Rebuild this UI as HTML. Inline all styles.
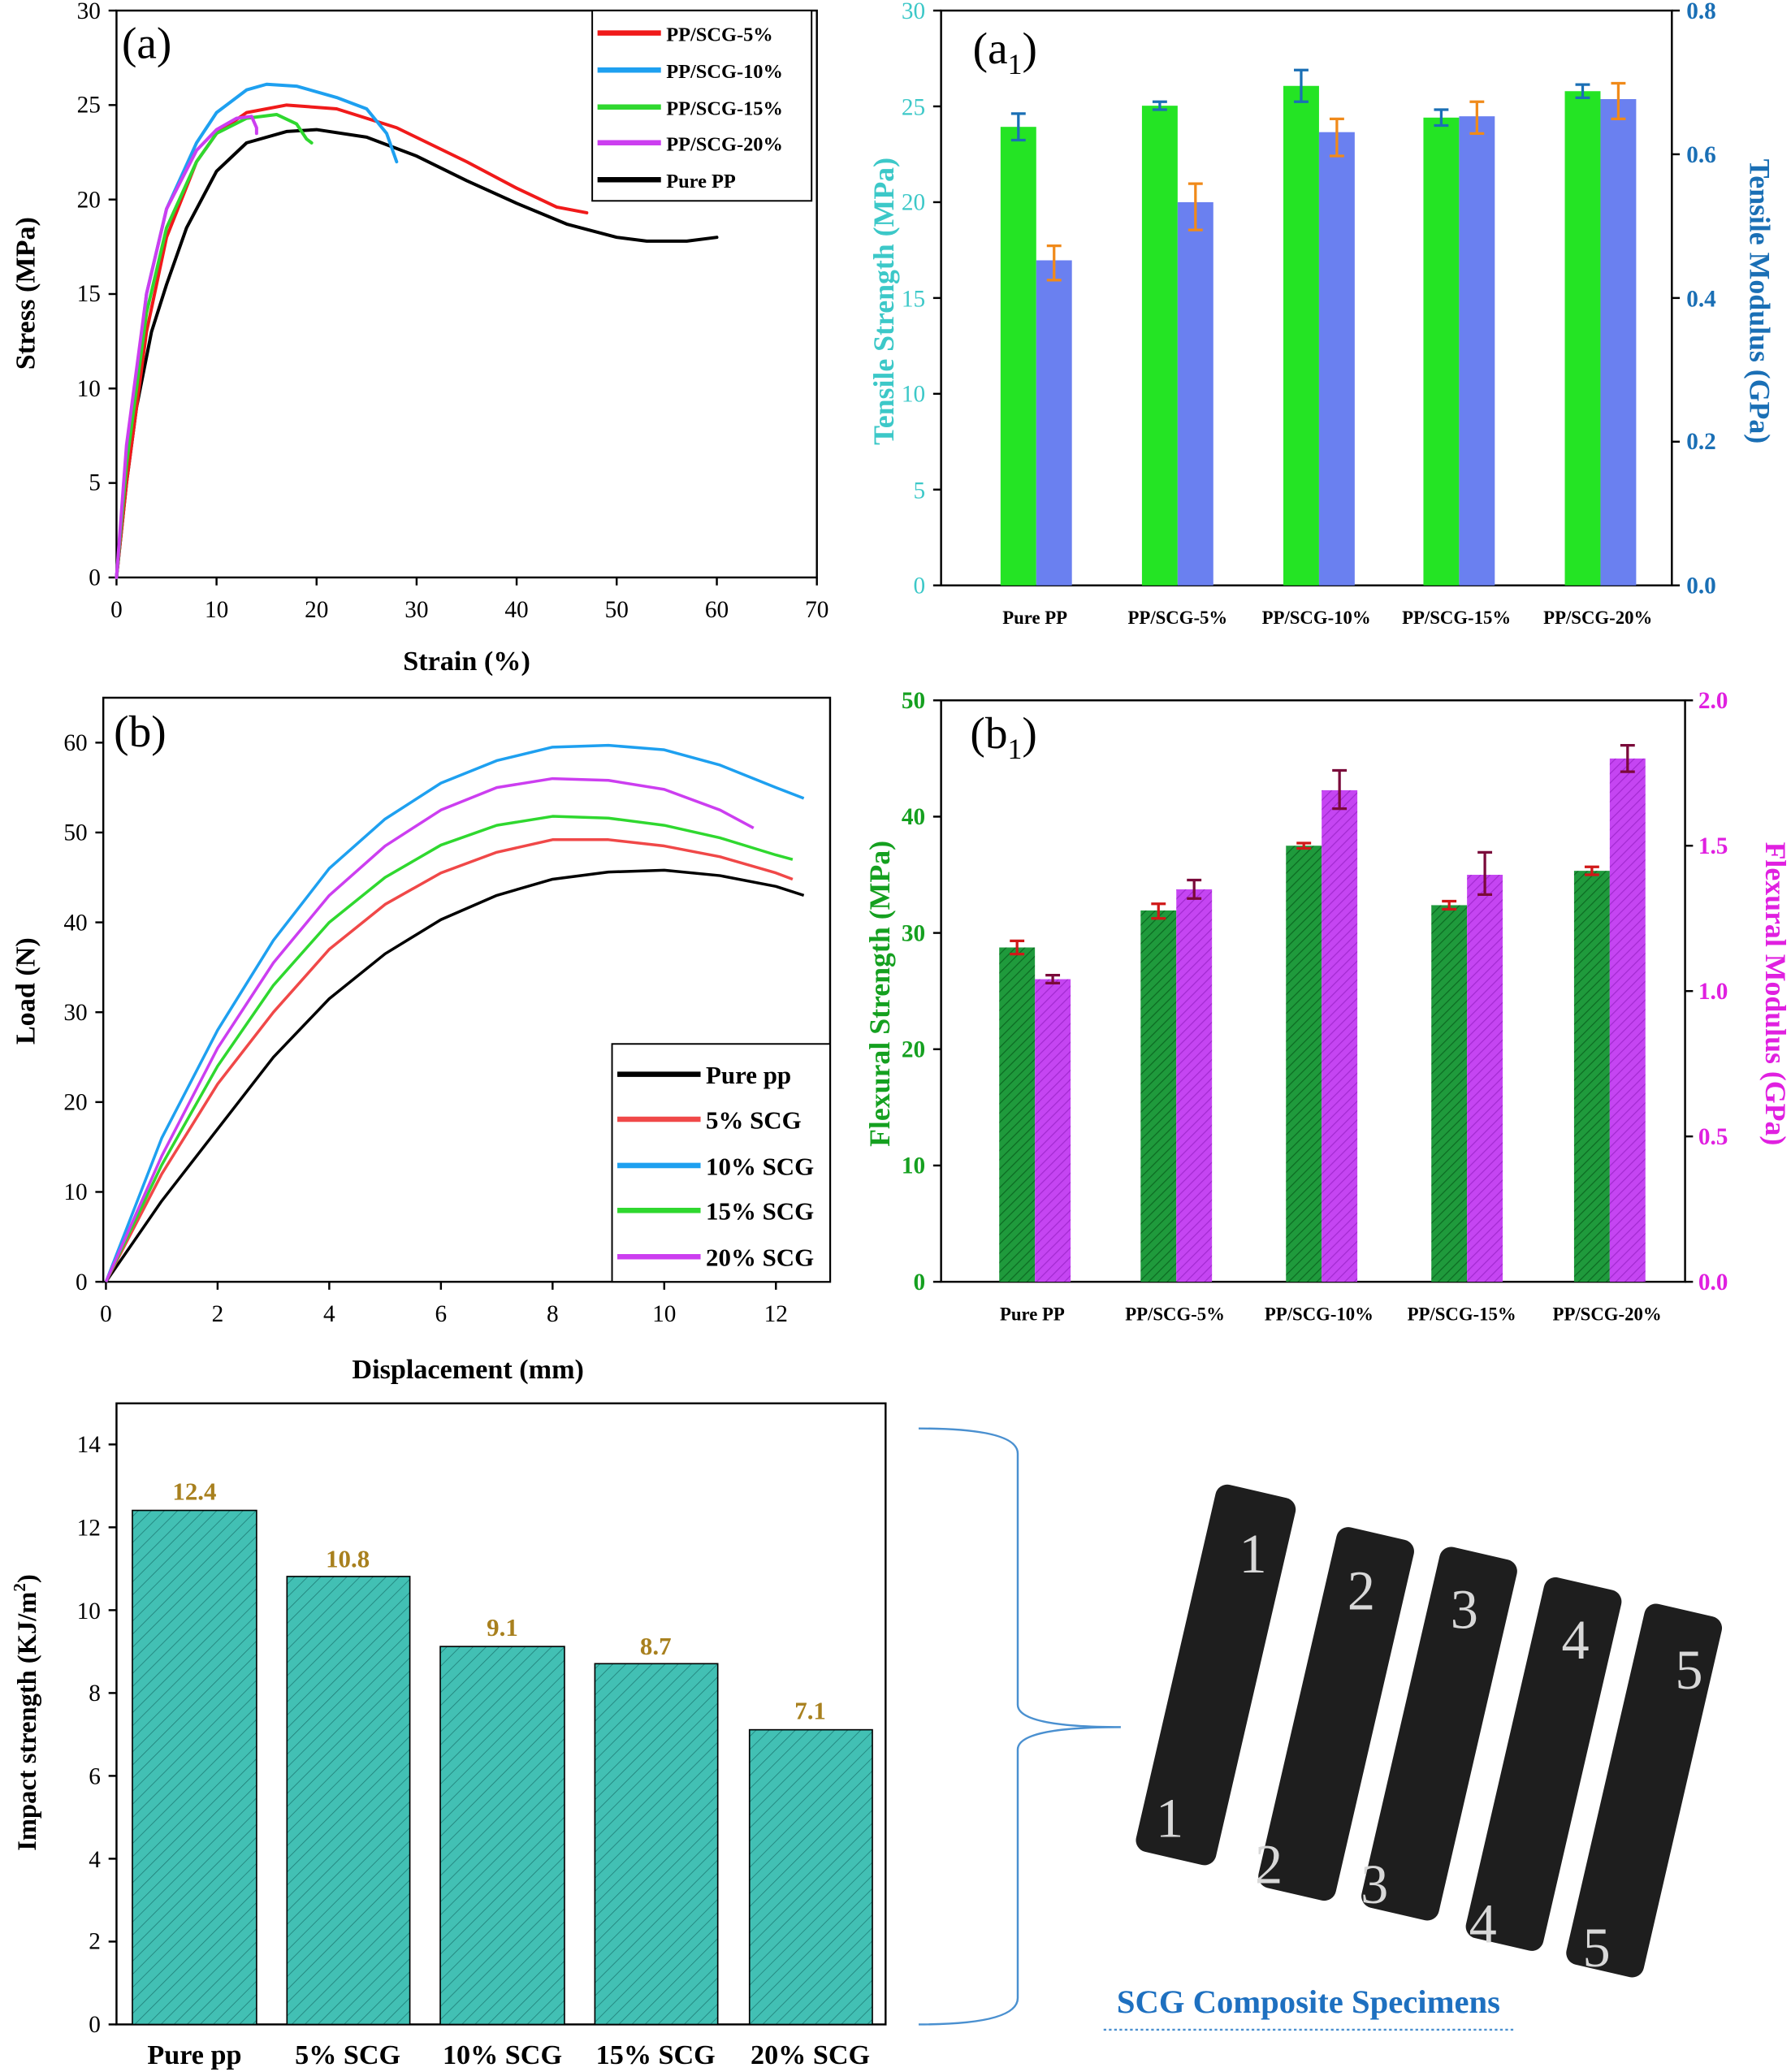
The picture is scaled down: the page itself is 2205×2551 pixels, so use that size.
<!DOCTYPE html>
<html><head><meta charset="utf-8"><style>
html,body{margin:0;padding:0;background:#fff}
svg{display:block}
text{font-family:"Liberation Serif",serif}
.t{font-size:18px}
.b{font-weight:bold}
</style></head><body>
<svg width="2205" height="2551" viewBox="0 0 1355 1568" xmlns="http://www.w3.org/2000/svg">
<defs>
<pattern id="h1" width="5" height="5" patternUnits="userSpaceOnUse" patternTransform="rotate(45)"><rect width="5" height="5" fill="#1f9a3c"/><line x1="0" y1="0" x2="0" y2="5" stroke="#0c6a22" stroke-width="1.5"/></pattern>
<pattern id="h2" width="5" height="5" patternUnits="userSpaceOnUse" patternTransform="rotate(45)"><rect width="5" height="5" fill="#c545f2"/><line x1="0" y1="0" x2="0" y2="5" stroke="#a22ad0" stroke-width="1.5"/></pattern>
<pattern id="h3" width="7" height="7" patternUnits="userSpaceOnUse" patternTransform="rotate(45)"><rect width="7" height="7" fill="#42c0b4"/><line x1="0" y1="0" x2="0" y2="7" stroke="#1f7f78" stroke-width="1"/></pattern>
</defs>

<!-- ========== (a) ========== -->
<rect x="88" y="8" width="530" height="429" fill="none" stroke="#000" stroke-width="1.5"/>
<g stroke="#000" stroke-width="1.5">
<line x1="88" y1="437" x2="88" y2="443"/><line x1="163.7" y1="437" x2="163.7" y2="443"/><line x1="239.4" y1="437" x2="239.4" y2="443"/><line x1="315.1" y1="437" x2="315.1" y2="443"/><line x1="390.8" y1="437" x2="390.8" y2="443"/><line x1="466.5" y1="437" x2="466.5" y2="443"/><line x1="542.3" y1="437" x2="542.3" y2="443"/><line x1="618" y1="437" x2="618" y2="443"/>
<line x1="82" y1="437" x2="88" y2="437"/><line x1="82" y1="365.5" x2="88" y2="365.5"/><line x1="82" y1="294" x2="88" y2="294"/><line x1="82" y1="222.5" x2="88" y2="222.5"/><line x1="82" y1="151" x2="88" y2="151"/><line x1="82" y1="79.5" x2="88" y2="79.5"/><line x1="82" y1="8" x2="88" y2="8"/>
</g>
<g class="t" text-anchor="middle">
<text x="88" y="467">0</text><text x="163.7" y="467">10</text><text x="239.4" y="467">20</text><text x="315.1" y="467">30</text><text x="390.8" y="467">40</text><text x="466.5" y="467">50</text><text x="542.3" y="467">60</text><text x="618" y="467">70</text>
</g>
<g class="t" text-anchor="end">
<text x="76" y="443">0</text><text x="76" y="371">5</text><text x="76" y="300">10</text><text x="76" y="228">15</text><text x="76" y="157">20</text><text x="76" y="85">25</text><text x="76" y="14">30</text>
</g>
<text x="353" y="507" text-anchor="middle" class="b" font-size="21">Strain (%)</text>
<text transform="translate(26,222) rotate(-90)" text-anchor="middle" class="b" font-size="21">Stress (MPa)</text>
<text x="92" y="44" font-size="34">(a)</text>
<g transform="translate(88,437) scale(7.571,-14.3)" fill="none" stroke-width="4" stroke-linejoin="round" stroke-linecap="round">
<polyline vector-effect="non-scaling-stroke" stroke="#000" points="0,0 1,5 2,9 3.5,13 5,15.5 7,18.5 10,21.5 13,23 17,23.6 20,23.7 25,23.3 30,22.3 35,21 40,19.8 45,18.7 50,18 53,17.8 57,17.8 60,18"/>
<polyline vector-effect="non-scaling-stroke" stroke="#f01a1a" points="0,0 1,5 3,13 5,18 8,22 10,23.5 13,24.6 17,25 22,24.8 28,23.8 35,22 40,20.6 44,19.6 47,19.3"/>
<polyline vector-effect="non-scaling-stroke" stroke="#1ea0f0" points="0,0 1,6 3,15 5,19.5 8,23 10,24.6 13,25.8 15,26.1 18,26 22,25.4 25,24.8 27,23.5 28,22"/>
<polyline vector-effect="non-scaling-stroke" stroke="#2fd82f" points="0,0 1,6 3,14 5,18.5 8,22 10,23.5 13,24.3 16,24.5 18,24 19,23.2 19.5,23"/>
<polyline vector-effect="non-scaling-stroke" stroke="#cc3ef0" points="0,0 1,7 3,15 5,19.5 8,22.6 10,23.7 12,24.3 13.5,24.4 14,23.8 14,23.5"/>
</g>
<rect x="448" y="8" width="166" height="144" fill="#fff" stroke="#000" stroke-width="1.2"/>
<g stroke-width="4">
<line x1="452" y1="25" x2="500" y2="25" stroke="#f01a1a"/><line x1="452" y1="53" x2="500" y2="53" stroke="#1ea0f0"/><line x1="452" y1="81" x2="500" y2="81" stroke="#2fd82f"/><line x1="452" y1="108" x2="500" y2="108" stroke="#cc3ef0"/><line x1="452" y1="136" x2="500" y2="136" stroke="#000"/>
</g>
<g class="b" font-size="15">
<text x="504" y="31">PP/SCG-5%</text><text x="504" y="59">PP/SCG-10%</text><text x="504" y="87">PP/SCG-15%</text><text x="504" y="114">PP/SCG-20%</text><text x="504" y="142">Pure PP</text>
</g>

<!-- ========== (a1) ========== -->
<rect x="712" y="8" width="553" height="435" fill="none" stroke="#000" stroke-width="1.5"/>
<g fill="#24e424"><rect x="757" y="96" width="27" height="347"/><rect x="864" y="80" width="27" height="363"/><rect x="971" y="65" width="27" height="378"/><rect x="1077" y="89" width="27" height="354"/><rect x="1184" y="69" width="27" height="374"/></g>
<g fill="#6a80f0"><rect x="784" y="197" width="27" height="246"/><rect x="891" y="153" width="27" height="290"/><rect x="998" y="100" width="27" height="343"/><rect x="1104" y="88" width="27" height="355"/><rect x="1211" y="75" width="27" height="368"/></g>
<g stroke="#1a6fb5" stroke-width="2">
<path d="M770.5,86v20M765,86h11M765,106h11"/><path d="M877.5,77v6M872,77h11M872,83h11"/><path d="M984.5,53v24M979,53h11M979,77h11"/><path d="M1090.5,83v12M1085,83h11M1085,95h11"/><path d="M1197.5,64v10M1192,64h11M1192,74h11"/>
</g>
<g stroke="#f08a1a" stroke-width="2">
<path d="M797.5,186v26M792,186h11M792,212h11"/><path d="M904.5,139v35M899,139h11M899,174h11"/><path d="M1011.5,90v28M1006,90h11M1006,118h11"/><path d="M1117.5,77v24M1112,77h11M1112,101h11"/><path d="M1224.5,63v27M1219,63h11M1219,90h11"/>
</g>
<g stroke="#000" stroke-width="1.5">
<line x1="706" y1="443" x2="712" y2="443"/><line x1="706" y1="370.5" x2="712" y2="370.5"/><line x1="706" y1="298" x2="712" y2="298"/><line x1="706" y1="225.5" x2="712" y2="225.5"/><line x1="706" y1="153" x2="712" y2="153"/><line x1="706" y1="80.5" x2="712" y2="80.5"/><line x1="706" y1="8" x2="712" y2="8"/>
<line x1="1265" y1="443" x2="1271" y2="443"/><line x1="1265" y1="334.25" x2="1271" y2="334.25"/><line x1="1265" y1="225.5" x2="1271" y2="225.5"/><line x1="1265" y1="116.75" x2="1271" y2="116.75"/><line x1="1265" y1="8" x2="1271" y2="8"/>
</g>
<g class="t" text-anchor="end" fill="#3cc8c8">
<text x="700" y="449">0</text><text x="700" y="377">5</text><text x="700" y="304">10</text><text x="700" y="232">15</text><text x="700" y="159">20</text><text x="700" y="87">25</text><text x="700" y="14">30</text>
</g>
<g class="t" fill="#1a6fb5" font-weight="bold">
<text x="1276" y="449">0.0</text><text x="1276" y="340">0.2</text><text x="1276" y="232">0.4</text><text x="1276" y="123">0.6</text><text x="1276" y="14">0.8</text>
</g>
<g class="b" font-size="14" text-anchor="middle">
<text x="783" y="472">Pure PP</text><text x="891" y="472">PP/SCG-5%</text><text x="996" y="472">PP/SCG-10%</text><text x="1102" y="472">PP/SCG-15%</text><text x="1209" y="472">PP/SCG-20%</text>
</g>
<text transform="translate(676,228) rotate(-90)" text-anchor="middle" class="b" font-size="22" fill="#3cc8c8">Tensile Strength (MPa)</text>
<text transform="translate(1324,228) rotate(90)" text-anchor="middle" class="b" font-size="22" fill="#1a6fb5">Tensile Modulus (GPa)</text>
<text x="736" y="48" font-size="34">(a<tspan font-size="22" dy="8">1</tspan><tspan dy="-8">)</tspan></text>

<!-- ========== (b) ========== -->
<rect x="78" y="528" width="550" height="442" fill="none" stroke="#000" stroke-width="1.5"/>
<g stroke="#000" stroke-width="1.5">
<line x1="80" y1="970" x2="80" y2="976"/><line x1="164.5" y1="970" x2="164.5" y2="976"/><line x1="249" y1="970" x2="249" y2="976"/><line x1="333.5" y1="970" x2="333.5" y2="976"/><line x1="418" y1="970" x2="418" y2="976"/><line x1="502.5" y1="970" x2="502.5" y2="976"/><line x1="587" y1="970" x2="587" y2="976"/>
<line x1="72" y1="970" x2="78" y2="970"/><line x1="72" y1="902" x2="78" y2="902"/><line x1="72" y1="834" x2="78" y2="834"/><line x1="72" y1="766" x2="78" y2="766"/><line x1="72" y1="698" x2="78" y2="698"/><line x1="72" y1="630" x2="78" y2="630"/><line x1="72" y1="562" x2="78" y2="562"/>
</g>
<g class="t" text-anchor="middle">
<text x="80" y="1000">0</text><text x="164.5" y="1000">2</text><text x="249" y="1000">4</text><text x="333.5" y="1000">6</text><text x="418" y="1000">8</text><text x="502.5" y="1000">10</text><text x="587" y="1000">12</text>
</g>
<g class="t" text-anchor="end">
<text x="66" y="976">0</text><text x="66" y="908">10</text><text x="66" y="840">20</text><text x="66" y="772">30</text><text x="66" y="704">40</text><text x="66" y="636">50</text><text x="66" y="568">60</text>
</g>
<text x="354" y="1043" text-anchor="middle" class="b" font-size="21">Displacement (mm)</text>
<text transform="translate(26,750) rotate(-90)" text-anchor="middle" class="b" font-size="21">Load (N)</text>
<text x="86" y="565" font-size="34">(b)</text>
<g transform="translate(80,970) scale(42.25,-6.8)" fill="none" stroke-width="3.5" stroke-linejoin="round">
<polyline vector-effect="non-scaling-stroke" stroke="#000" points="0,0 1,9 2,17 3,25 4,31.5 5,36.5 6,40.3 7,43 8,44.8 9,45.6 10,45.8 11,45.2 12,44 12.5,43"/>
<polyline vector-effect="non-scaling-stroke" stroke="#f04848" points="0,0 1,12 2,22 3,30 4,37 5,42 6,45.5 7,47.8 8,49.2 9,49.2 10,48.5 11,47.3 12,45.5 12.3,44.8"/>
<polyline vector-effect="non-scaling-stroke" stroke="#1ea0f0" points="0,0 1,16 2,28 3,38 4,46 5,51.5 6,55.5 7,58 8,59.5 9,59.7 10,59.2 11,57.5 12,55 12.5,53.8"/>
<polyline vector-effect="non-scaling-stroke" stroke="#2fd82f" points="0,0 1,13 2,24 3,33 4,40 5,45 6,48.6 7,50.8 8,51.8 9,51.6 10,50.8 11,49.4 12,47.5 12.3,47"/>
<polyline vector-effect="non-scaling-stroke" stroke="#cc3ef0" points="0,0 1,14 2,26 3,35.5 4,43 5,48.5 6,52.5 7,55 8,56 9,55.8 10,54.8 11,52.5 11.6,50.5"/>
</g>
<rect x="463" y="790" width="165" height="180" fill="#fff" stroke="#000" stroke-width="1.2"/>
<g stroke-width="4">
<line x1="467" y1="813" x2="530" y2="813" stroke="#000"/><line x1="467" y1="847" x2="530" y2="847" stroke="#f04848"/><line x1="467" y1="882" x2="530" y2="882" stroke="#1ea0f0"/><line x1="467" y1="916" x2="530" y2="916" stroke="#2fd82f"/><line x1="467" y1="951" x2="530" y2="951" stroke="#cc3ef0"/>
</g>
<g class="b" font-size="19">
<text x="534" y="820">Pure pp</text><text x="534" y="854">5% SCG</text><text x="534" y="889">10% SCG</text><text x="534" y="923">15% SCG</text><text x="534" y="958">20% SCG</text>
</g>

<!-- ========== (b1) ========== -->
<rect x="712" y="530" width="563" height="440" fill="none" stroke="#000" stroke-width="1.5"/>
<g fill="url(#h1)"><rect x="756" y="717" width="27" height="253"/><rect x="863" y="689" width="27" height="281"/><rect x="973" y="640" width="27" height="330"/><rect x="1083" y="685" width="27" height="285"/><rect x="1191" y="659" width="27" height="311"/></g>
<g fill="url(#h2)"><rect x="783" y="741" width="27" height="229"/><rect x="890" y="673" width="27" height="297"/><rect x="1000" y="598" width="27" height="372"/><rect x="1110" y="662" width="27" height="308"/><rect x="1218" y="574" width="27" height="396"/></g>
<g stroke="#d01818" stroke-width="2">
<path d="M769.5,712v10M764,712h11M764,722h11"/><path d="M876.5,684v11M871,684h11M871,695h11"/><path d="M986.5,638v4M981,638h11M981,642h11"/><path d="M1096.5,682v6M1091,682h11M1091,688h11"/><path d="M1204.5,656v6M1199,656h11M1199,662h11"/>
</g>
<g stroke="#7a0a3a" stroke-width="2">
<path d="M796.5,738v6M791,738h11M791,744h11"/><path d="M903.5,666v14M898,666h11M898,680h11"/><path d="M1013.5,583v29M1008,583h11M1008,612h11"/><path d="M1123.5,645v32M1118,645h11M1118,677h11"/><path d="M1231.5,564v20M1226,564h11M1226,584h11"/>
</g>
<g stroke="#000" stroke-width="1.5">
<line x1="706" y1="970" x2="712" y2="970"/><line x1="706" y1="882" x2="712" y2="882"/><line x1="706" y1="794" x2="712" y2="794"/><line x1="706" y1="706" x2="712" y2="706"/><line x1="706" y1="618" x2="712" y2="618"/><line x1="706" y1="530" x2="712" y2="530"/>
<line x1="1275" y1="970" x2="1281" y2="970"/><line x1="1275" y1="860" x2="1281" y2="860"/><line x1="1275" y1="750" x2="1281" y2="750"/><line x1="1275" y1="640" x2="1281" y2="640"/><line x1="1275" y1="530" x2="1281" y2="530"/>
</g>
<g class="t" text-anchor="end" fill="#15a020" font-weight="bold">
<text x="700" y="976">0</text><text x="700" y="888">10</text><text x="700" y="800">20</text><text x="700" y="712">30</text><text x="700" y="624">40</text><text x="700" y="536">50</text>
</g>
<g class="t" fill="#e020e0" font-weight="bold">
<text x="1285" y="976">0.0</text><text x="1285" y="866">0.5</text><text x="1285" y="756">1.0</text><text x="1285" y="646">1.5</text><text x="1285" y="536">2.0</text>
</g>
<g class="b" font-size="14" text-anchor="middle">
<text x="781" y="999">Pure PP</text><text x="889" y="999">PP/SCG-5%</text><text x="998" y="999">PP/SCG-10%</text><text x="1106" y="999">PP/SCG-15%</text><text x="1216" y="999">PP/SCG-20%</text>
</g>
<text transform="translate(673,752) rotate(-90)" text-anchor="middle" class="b" font-size="22" fill="#15a020">Flexural Strength (MPa)</text>
<text transform="translate(1336,752) rotate(90)" text-anchor="middle" class="b" font-size="22" fill="#e020e0">Flexural Modulus (GPa)</text>
<text x="734" y="566" font-size="34">(b<tspan font-size="22" dy="8">1</tspan><tspan dy="-8">)</tspan></text>

<!-- ========== Impact ========== -->
<rect x="88" y="1062" width="582" height="470" fill="none" stroke="#000" stroke-width="1.5"/>
<g fill="url(#h3)" stroke="#000" stroke-width="1">
<rect x="100" y="1143" width="94" height="389"/><rect x="217" y="1193" width="93" height="339"/><rect x="333" y="1246" width="94" height="286"/><rect x="450" y="1259" width="93" height="273"/><rect x="567" y="1309" width="93" height="223"/>
</g>
<g class="b" font-size="19" fill="#a8801e" text-anchor="middle">
<text x="147" y="1135">12.4</text><text x="263" y="1186">10.8</text><text x="380" y="1238">9.1</text><text x="496" y="1252">8.7</text><text x="613" y="1301">7.1</text>
</g>
<g stroke="#000" stroke-width="1.5">
<line x1="82" y1="1532" x2="88" y2="1532"/><line x1="82" y1="1469.3" x2="88" y2="1469.3"/><line x1="82" y1="1406.6" x2="88" y2="1406.6"/><line x1="82" y1="1343.9" x2="88" y2="1343.9"/><line x1="82" y1="1281.2" x2="88" y2="1281.2"/><line x1="82" y1="1218.5" x2="88" y2="1218.5"/><line x1="82" y1="1155.8" x2="88" y2="1155.8"/><line x1="82" y1="1093.1" x2="88" y2="1093.1"/>
</g>
<g class="t" text-anchor="end">
<text x="76" y="1538">0</text><text x="76" y="1475">2</text><text x="76" y="1413">4</text><text x="76" y="1350">6</text><text x="76" y="1287">8</text><text x="76" y="1225">10</text><text x="76" y="1162">12</text><text x="76" y="1099">14</text>
</g>
<g class="b" font-size="21" text-anchor="middle">
<text x="147" y="1562">Pure pp</text><text x="263" y="1562">5% SCG</text><text x="380" y="1562">10% SCG</text><text x="496" y="1562">15% SCG</text><text x="613" y="1562">20% SCG</text>
</g>
<text transform="translate(27,1296) rotate(-90)" text-anchor="middle" class="b" font-size="20">Impact strength (KJ/m<tspan font-size="13" dy="-8">2</tspan><tspan dy="8">)</tspan></text>

<!-- bracket -->
<path d="M695,1081 Q770,1081 770,1100 L770,1290 Q770,1307 848,1307 Q770,1307 770,1324 L770,1512 Q770,1532 695,1532" fill="none" stroke="#4a90d0" stroke-width="1.5"/>

<!-- specimens -->
<g fill="#1e1e1e">
<rect x="889" y="1125" width="62" height="285" rx="9" transform="rotate(13 920 1267)"/>
<rect x="981" y="1157" width="60" height="280" rx="9" transform="rotate(13 1011 1297)"/>
<rect x="1059" y="1172" width="60" height="280" rx="9" transform="rotate(13 1089 1312)"/>
<rect x="1138" y="1195" width="60" height="280" rx="9" transform="rotate(13 1168 1335)"/>
<rect x="1214" y="1215" width="60" height="280" rx="9" transform="rotate(13 1244 1355)"/>
</g>
<g fill="#d8d8d8" font-family="Liberation Sans, sans-serif" font-size="42" text-anchor="middle">
<text x="948" y="1190">1</text><text x="885" y="1390">1</text>
<text x="1030" y="1218">2</text><text x="960" y="1425">2</text>
<text x="1108" y="1232">3</text><text x="1040" y="1440">3</text>
<text x="1192" y="1255">4</text><text x="1122" y="1470">4</text>
<text x="1278" y="1278">5</text><text x="1208" y="1488">5</text>
</g>
<text x="990" y="1523" text-anchor="middle" class="b" font-size="25" fill="#1e70c0">SCG Composite Specimens</text>
<line x1="835" y1="1536" x2="1145" y2="1536" stroke="#4a90d0" stroke-width="1.5" stroke-dasharray="2,2"/>
</svg>
</body></html>
